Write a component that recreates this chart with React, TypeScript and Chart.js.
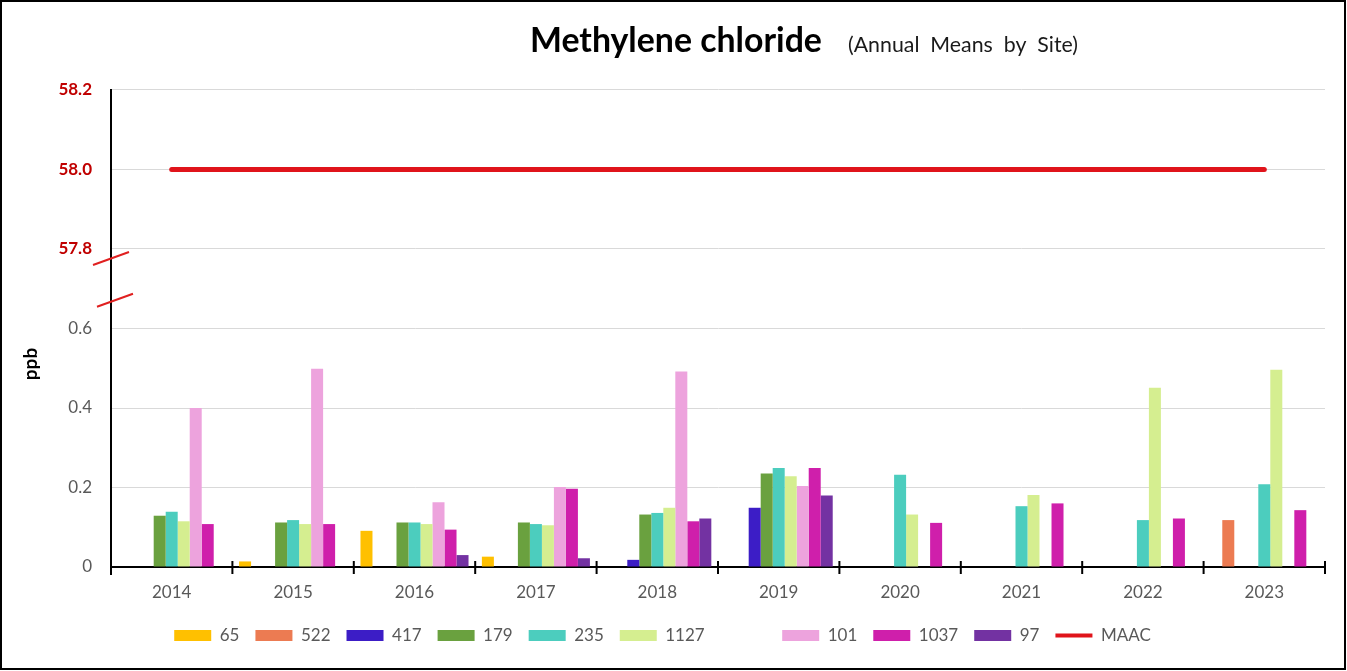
import React, { useEffect, useRef } from 'react';
import { Chart, registerables } from 'chart.js';

Chart.register(...registerables);

// ---- Data ----
const years = ['2014', '2015', '2016', '2017', '2018', '2019', '2020', '2021', '2022', '2023'];
const site65 = [null, 0.014, 0.091, 0.026, null, null, null, null, null, null];
const site522 = [null, null, null, null, null, null, null, null, null, 0.118];
const site417 = [null, null, null, null, 0.018, 0.149, null, null, null, null];
const site179 = [0.129, 0.112, 0.112, 0.112, 0.132, 0.235, null, null, null, null];
const site235 = [0.139, 0.118, 0.112, 0.108, 0.136, 0.249, 0.232, 0.153, 0.118, 0.208];
const site1127 = [0.115, 0.108, 0.108, 0.105, 0.149, 0.228, 0.132, 0.181, 0.451, 0.496];
const site101 = [0.4, 0.499, 0.163, 0.201, 0.492, 0.204, null, null, null, null];
const site1037 = [0.108, 0.108, 0.094, 0.197, 0.115, 0.249, 0.111, 0.16, 0.122, 0.143];
const site97 = [null, null, 0.03, 0.022, 0.122, 0.18, null, null, null, null];
const maac = [58.0, 58.0, 58.0, 58.0, 58.0, 58.0, 58.0, 58.0, 58.0, 58.0];

const yTickLabels = ['0', '0.2', '0.4', '0.6', '57.8', '58.0', '58.2'];
const siteNames = ['65', '522', '417', '179', '235', '1127', '101', '1037', '97'];
const siteSeries = [site65, site522, site417, site179, site235, site1127, site101, site1037, site97];
const siteColors = ['#FFC000', '#EC7B52', '#3C1DC6', '#6AA13F', '#4CCDBE', '#D5EE90', '#EDA3DD', '#CF1FAB', '#7332A2'];
// the original legend shows an empty, unlabelled entry after "1127"
const BLANK_LEGEND_AFTER = 5;

const TITLE = 'Methylene chloride';
const SUBTITLE = '(Annual  Means  by  Site)';
const Y_TITLE = 'ppb';
const MAAC_LABEL = 'MAAC';
const MAAC_COLOR = '#E0141B';

// broken axis: values >= 57 are shifted down into the upper band of the scale
const BREAK_SHIFT = 57;
const mapValue = (v: number | null) => (v == null ? null : v >= BREAK_SHIFT ? v - BREAK_SHIFT : v);

const FONT = 'Lato, "Open Sans", "Liberation Sans", sans-serif';

const decorPlugin = {
  id: 'decor',
  afterDraw(chart: any) {
    const { ctx, chartArea, scales } = chart;
    const x = scales.x;
    const y = scales.y;
    ctx.save();
    // title
    ctx.fillStyle = '#000';
    ctx.textBaseline = 'alphabetic';
    ctx.textAlign = 'left';
    ctx.font = `bold 30px ${FONT}`;
    let w = ctx.measureText(TITLE).width;
    const ts = 30 * 292 / w;
    ctx.font = `bold ${ts}px ${FONT}`;
    ctx.fillText(TITLE, 530, 52);
    ctx.font = `17px ${FONT}`;
    w = ctx.measureText(SUBTITLE).width;
    const ss = 17 * 230 / w;
    ctx.font = `${ss}px ${FONT}`;
    ctx.fillStyle = '#1a1a1a';
    ctx.fillText(SUBTITLE, 848, 52);

    // y title
    ctx.save();
    ctx.translate(31, 364);
    ctx.rotate(-Math.PI / 2);
    ctx.textAlign = 'center';
    ctx.textBaseline = 'middle';
    ctx.fillStyle = '#000';
    ctx.font = `bold 19px ${FONT}`;
    ctx.fillText(Y_TITLE, 0, 0);
    ctx.restore();

    // x-axis boundary tick marks
    const y0 = y.getPixelForValue(0);
    const half = (x.getPixelForValue(1) - x.getPixelForValue(0)) / 2;
    ctx.strokeStyle = '#000';
    ctx.lineWidth = 2;
    ctx.beginPath();
    for (let i = 0; i <= years.length; i++) {
      const px = x.getPixelForValue(i) - half;
      if (i === 0) {
        ctx.moveTo(px, y0);
        ctx.lineTo(px, y0 + 8);
      } else {
        ctx.moveTo(px, y0 - 6);
        ctx.lineTo(px, y0 + 7);
      }
    }
    ctx.stroke();

    // axis break marks
    ctx.strokeStyle = '#E02020';
    ctx.lineWidth = 2;
    const left = chartArea.left;
    [[0.776, 0], [0.671, 4]].forEach(([v, dx]) => {
      const py = y.getPixelForValue(v);
      ctx.beginPath();
      ctx.moveTo(left - 18 + dx, py + 6.5);
      ctx.lineTo(left + 18 + dx, py - 6.5);
      ctx.stroke();
    });

    // frame
    ctx.strokeStyle = '#000';
    ctx.lineWidth = 2;
    ctx.strokeRect(1, 1, chart.width - 3, chart.height - 3);
    ctx.restore();
  },
};

export default function App() {
  const canvasRef = useRef<HTMLCanvasElement | null>(null);

  useEffect(() => {
    const canvas = canvasRef.current;
    if (!canvas) return;

    const barSets = siteNames.map((name, i) => ({
      type: 'bar' as const,
      label: name,
      data: siteSeries[i].map(mapValue),
      backgroundColor: siteColors[i],
      borderWidth: 0,
      categoryPercentage: 0.89,
      barPercentage: 1.0,
      order: 2,
    }));

    const chart = new Chart(canvas, {
      type: 'bar',
      data: {
        labels: years,
        datasets: [
          ...barSets,
          {
            type: 'line' as const,
            label: MAAC_LABEL,
            data: maac.map(mapValue),
            borderColor: MAAC_COLOR,
            backgroundColor: MAAC_COLOR,
            borderWidth: 5,
            borderCapStyle: 'round',
            pointRadius: 0,
            fill: false,
            order: 1,
          } as any,
        ],
      },
      options: {
        responsive: false,
        animation: false,
        layout: { padding: { top: 90, right: 22, left: 0, bottom: 17 } },
        plugins: {
          title: { display: false },
          tooltip: { enabled: false },
          legend: {
            position: 'bottom',
            labels: {
              usePointStyle: true,
              pointStyleWidth: 37,
              boxHeight: 11,
              padding: 16,
              color: '#595959',
              font: { family: FONT, size: 17 },
              generateLabels: (ch: any) => {
                const items: any[] = [];
                ch.data.datasets.forEach((ds: any, i: number) => {
                  const isLine = ds.type === 'line';
                  items.push({
                    text: ds.label,
                    fillStyle: ds.backgroundColor,
                    strokeStyle: isLine ? ds.borderColor : ds.backgroundColor,
                    lineWidth: isLine ? 4 : 0,
                    pointStyle: isLine ? 'line' : 'rect',
                    hidden: false,
                    datasetIndex: i,
                    fontColor: '#595959',
                  });
                  if (i === BLANK_LEGEND_AFTER) {
                    items.push({
                      text: '',
                      fillStyle: 'rgba(0,0,0,0)',
                      strokeStyle: 'rgba(0,0,0,0)',
                      lineWidth: 0,
                      pointStyle: 'rect',
                      hidden: false,
                      fontColor: '#595959',
                    });
                  }
                });
                return items;
              },
            },
          },
        },
        scales: {
          x: {
            type: 'category',
            offset: true,
            afterFit: (s: any) => {
              s.height = 44;
            },
            grid: { display: true, drawOnChartArea: false, drawTicks: false, offset: true },
            border: { display: true, color: '#000', width: 2 },
            ticks: { color: '#595959', font: { family: FONT, size: 17 }, padding: 15 },
          },
          y: {
            type: 'linear',
            min: 0,
            max: 1.2,
            afterFit: (s: any) => {
              s.width = 111;
            },
            afterBuildTicks: (s: any) => {
              s.ticks = yTickLabels.map((_, i) => ({ value: i * 0.2 }));
            },
            grid: { color: '#D9D9D9', lineWidth: 1, drawTicks: false },
            border: { display: true, color: '#000', width: 2 },
            ticks: {
              padding: 19,
              callback: (_v: any, i: number) => yTickLabels[i],
              color: (c: any) => (c.index >= 4 ? '#C00000' : '#595959'),
              font: (c: any) => ({ family: FONT, size: 17, weight: c.index >= 4 ? 'bold' : 'normal' }),
            },
          },
        },
      },
      plugins: [decorPlugin],
    });

    return () => chart.destroy();
  }, []);

  return (
    <div style={{ position: 'fixed', left: 0, top: 0, width: 1347, height: 671, background: '#fff' }}>
      <canvas ref={canvasRef} width={1347} height={671} style={{ display: 'block', width: 1347, height: 671 }} />
    </div>
  );
}
